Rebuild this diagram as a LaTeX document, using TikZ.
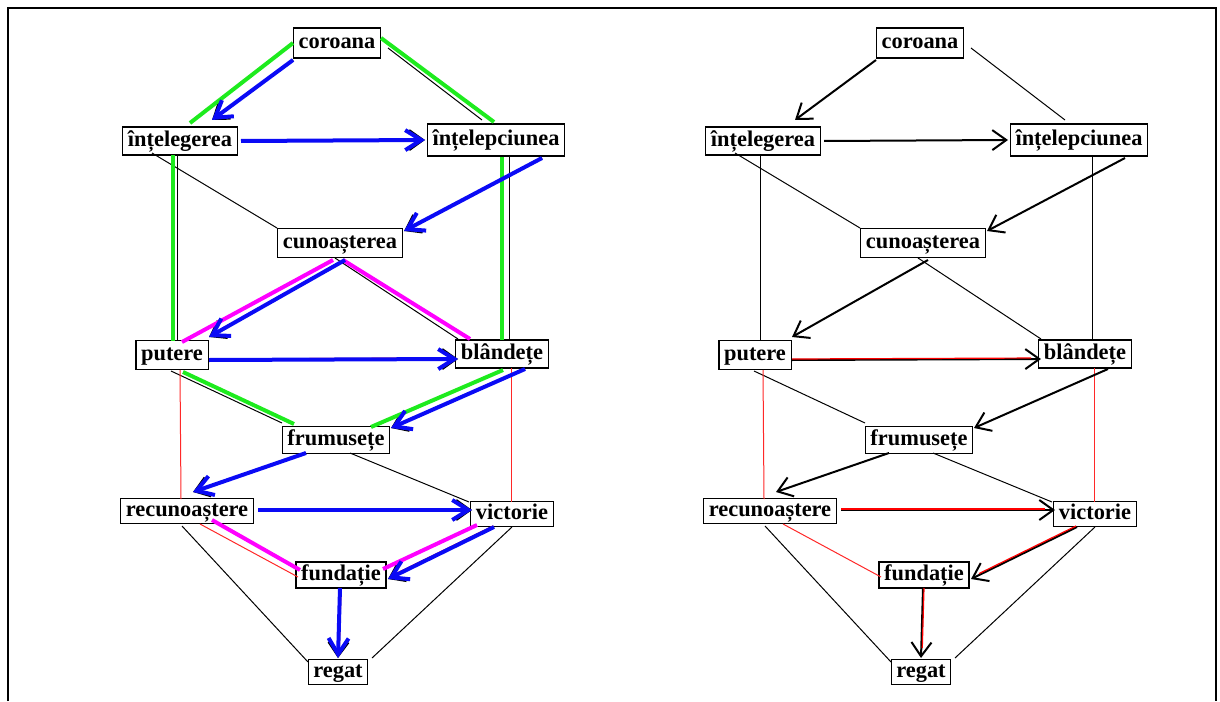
\documentclass[tikz,border=0pt]{standalone}
\usepackage{fontspec}
\setmainfont{Liberation Serif}
\usetikzlibrary{arrows.meta}
\definecolor{lime}{RGB}{30,235,30}
\definecolor{pink}{RGB}{255,0,255}
\definecolor{pathblue}{RGB}{10,10,245}
\definecolor{linkred}{RGB}{255,40,40}
\tikzset{
  box/.style={draw, line width=0.6pt, inner xsep=2.6pt, inner ysep=1pt,
    text height=8pt, text depth=2.5pt, minimum height=14pt,
    font=\bfseries\fontsize{11.2}{13}\selectfont},
  link/.style={line width=0.5pt},
  redlink/.style={line width=0.5pt, linkred},
  arr/.style={line width=1pt, ->},
  redtrace/.style={line width=0.6pt, red, shorten >=5pt},
  bluearr/.style={line width=2pt, pathblue, ->, >={Straight Barb[length=8pt,width=10pt]}},
  greenpath/.style={line width=2pt, lime},
  pinkpath/.style={line width=2pt, pink}
}
\begin{document}
\begin{tikzpicture}[x=0.5pt, y=-0.5pt, >={Straight Barb[length=7pt,width=10pt]}]
\useasboundingbox (0,0) rectangle (1220,701);
\draw[line width=1.2pt] (8,701) -- (8,8) -- (1216,8) -- (1216,701);

\foreach \p/\dx in {L/0, R/583}{
\begin{scope}[shift={(\dx,0)}, name prefix=\p-]
\node[box, minimum height=15pt] (coroana) at (337,43) {coroana};
\node[box] (intelegerea) at (180,141) {înțelegerea};
\node[box, minimum height=16pt] (intelepciunea) at (496,140) {înțelepciunea};
\node[box, minimum height=14.5pt] (cunoasterea) at (340,243) {cunoașterea};
\node[box, minimum height=14.5pt] (putere) at (172,355) {putere};
\node[box] (blandete) at (502,354) {blândețe};
\node[box, minimum height=13.5pt] (frumusete) at (336,440) {frumusețe};
\node[box, minimum height=12.5pt] (recunoastere) at (187,511) {recunoaștere};
\node[box, minimum height=12.5pt] (victorie) at (512,514) {victorie};
\node[box, minimum height=13pt] (fundatie) at (341,575) {fundație};
\node[box, minimum height=12.5pt] (regat) at (338,672) {regat};

\draw[link] ([shift={(51,5)}]coroana.center) -- ([shift={(-14,-20)}]intelepciunea.center);
\draw[link] ([shift={(-28,12)}]intelegerea.center) -- ([shift={(-63,-15)}]cunoasterea.center);
\draw[link] ([shift={(-3,14)}]intelegerea.center) -- ([shift={(5,-14)}]putere.center);
\draw[link] ([shift={(13,17)}]intelepciunea.center) -- ([shift={(7,-14)}]blandete.center);
\draw[link] ([shift={(-5,15)}]cunoasterea.center) -- ([shift={(-44,-15)}]blandete.center);
\draw[link] ([shift={(-1,16)}]putere.center) -- ([shift={(-54,-17)}]frumusete.center);
\draw[redlink] ([shift={(8,15)}]putere.center) -- ([shift={(-6,-12)}]recunoastere.center);
\draw[redlink] ([shift={(9,14)}]blandete.center) -- ([shift={(-1,-12)}]victorie.center);
\draw[link] ([shift={(14,13)}]frumusete.center) -- ([shift={(-43,-12)}]victorie.center);
\draw[redlink] ([shift={(13,13)}]recunoastere.center) -- ([shift={(-43,2)}]fundatie.center);
\draw[link] ([shift={(-5,15)}]recunoastere.center) -- ([shift={(-30,-10)}]regat.center);
\draw[link] ([shift={(0,13)}]victorie.center) -- ([shift={(34,-14)}]regat.center);

\draw[arr] ([shift={(-44,17)}]coroana.center) -- ([shift={(32,-21)}]intelegerea.center);
\draw[arr] ([shift={(61,0)}]intelegerea.center) -- ([shift={(-71,0)}]intelepciunea.center);
\draw[arr] ([shift={(46,18)}]intelepciunea.center) -- ([shift={(64,-12)}]cunoasterea.center);
\draw[arr] ([shift={(5,17)}]cunoasterea.center) -- ([shift={(37,-18)}]putere.center);
\draw[arr] ([shift={(37,5)}]putere.center) -- ([shift={(-44,5)}]blandete.center);
\draw[arr] ([shift={(23,15)}]blandete.center) -- ([shift={(55,-12)}]frumusete.center);
\draw[arr] ([shift={(-30,13)}]frumusete.center) -- ([shift={(6,-19)}]recunoastere.center);
\draw[arr] ([shift={(71,-1)}]recunoastere.center) -- ([shift={(-40,-4)}]victorie.center);
\draw[arr] ([shift={(-18,13)}]victorie.center) -- ([shift={(47,4)}]fundatie.center);
\draw[arr] ([shift={(-1,13)}]fundatie.center) -- ([shift={(0,-14)}]regat.center);

\draw[redtrace] ([shift={(37,4)}]putere.center) -- ([shift={(-44,4)}]blandete.center);
\draw[redtrace] ([shift={(71,-2)}]recunoastere.center) -- ([shift={(-40,-5)}]victorie.center);
\draw[redtrace] ([shift={(-19,12)}]victorie.center) -- ([shift={(46,3)}]fundatie.center);
\draw[redtrace] ([shift={(0,13)}]fundatie.center) -- ([shift={(1,-14)}]regat.center);
\end{scope}
}

\begin{scope}[name prefix=L-]
\draw[greenpath] ([shift={(-44,0)}]coroana.center) -- ([shift={(10,-18)}]intelegerea.center);
\draw[greenpath] ([shift={(44,-5)}]coroana.center) -- ([shift={(-2,-18)}]intelepciunea.center);
\draw[greenpath] ([shift={(-7,14)}]intelegerea.center) -- ([shift={(1,-14)}]putere.center);
\draw[greenpath] ([shift={(6,17)}]intelepciunea.center) -- ([shift={(0,-14)}]blandete.center);
\draw[greenpath] ([shift={(11,17)}]putere.center) -- ([shift={(-42,-16)}]frumusete.center);
\draw[greenpath] ([shift={(1,16)}]blandete.center) -- ([shift={(35,-13)}]frumusete.center);

\draw[pinkpath] ([shift={(-7,17)}]cunoasterea.center) -- ([shift={(10,-13)}]putere.center);
\draw[pinkpath] ([shift={(3,17)}]cunoasterea.center) -- ([shift={(-32,-15)}]blandete.center);
\draw[pinkpath] ([shift={(25,9)}]recunoastere.center) -- ([shift={(-41,-5)}]fundatie.center);
\draw[pinkpath] ([shift={(-35,11)}]victorie.center) -- ([shift={(42,-6)}]fundatie.center);

\draw[bluearr] ([shift={(-44,17)}]coroana.center) -- ([shift={(32,-21)}]intelegerea.center);
\draw[bluearr] ([shift={(61,0)}]intelegerea.center) -- ([shift={(-71,0)}]intelepciunea.center);
\draw[bluearr] ([shift={(46,18)}]intelepciunea.center) -- ([shift={(64,-12)}]cunoasterea.center);
\draw[bluearr] ([shift={(5,17)}]cunoasterea.center) -- ([shift={(37,-18)}]putere.center);
\draw[bluearr] ([shift={(37,5)}]putere.center) -- ([shift={(-44,5)}]blandete.center);
\draw[bluearr] ([shift={(23,15)}]blandete.center) -- ([shift={(55,-12)}]frumusete.center);
\draw[bluearr] ([shift={(-30,13)}]frumusete.center) -- ([shift={(6,-19)}]recunoastere.center);
\draw[bluearr] ([shift={(71,-1)}]recunoastere.center) -- ([shift={(-40,-4)}]victorie.center);
\draw[bluearr] ([shift={(-18,13)}]victorie.center) -- ([shift={(47,4)}]fundatie.center);
\draw[bluearr] ([shift={(-1,13)}]fundatie.center) -- ([shift={(0,-14)}]regat.center);
\end{scope}
\end{tikzpicture}
\end{document}
